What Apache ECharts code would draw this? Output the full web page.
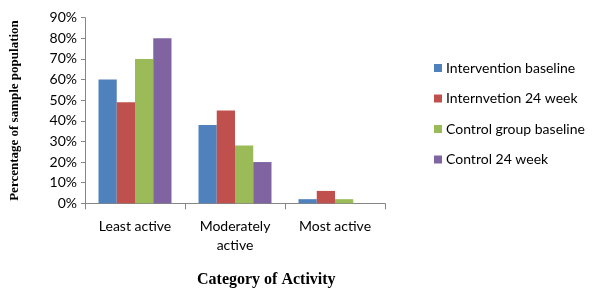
<!DOCTYPE html>
<html>
<head>
<meta charset="utf-8">
<script src="https://cdn.jsdelivr.net/npm/echarts@6/dist/echarts.min.js"></script>
<style>
  html, body { margin: 0; padding: 0; background: #fff; }
  #chart { width: 600px; height: 296px; }
</style>
</head>
<body>
<div id="chart"></div>
<script>
  let categories = ['Least active', 'Moderately\nactive', 'Most active']
  let seriesNames = ['Intervention baseline', 'Internvetion 24 week', 'Control group baseline', 'Control 24 week']
  let interventionBaseline = [60, 38, 2]
  let interventionWeek24 = [49, 45, 6]
  let controlBaseline = [70, 28, 2]
  let controlWeek24 = [80, 20, 0]
  let colors = ['#4F81BD', '#C0504D', '#9BBB59', '#8064A2']

  let font = 'Lato'
  let chart = echarts.init(document.getElementById('chart'))
  let values = [interventionBaseline, interventionWeek24, controlBaseline, controlWeek24]
  let series = []
  for (let idx in values) {
    series.push({
      name: seriesNames[idx],
      type: 'bar',
      barCategoryGap: '27%',
      barGap: '0%',
      itemStyle: {color: colors[idx]},
      data: values[idx]
    })
  }
  let option = {
    animation: false,
    color: colors,
    grid: {left: 85, right: 215, top: 17.7, bottom: 92.7},
    title: {
      text: 'Category of Activity',
      left: 192,
      top: 267,
      textStyle: {fontFamily: 'Liberation Serif', fontWeight: 'bold', fontSize: 16, color: '#000'}
    },
    legend: {
      orient: 'vertical',
      left: 429,
      top: 56,
      itemWidth: 8,
      itemHeight: 8,
      itemGap: 16.5,
      icon: 'rect',
      textStyle: {fontFamily: font, fontSize: 14, color: '#000', padding: [0, 0, 0, -1]},
      data: seriesNames
    },
    xAxis: {
      type: 'category',
      data: categories,
      axisLine: {lineStyle: {color: '#868686'}},
      axisTick: {show: true, length: 6, lineStyle: {color: '#868686'}},
      axisLabel: {fontFamily: font, fontSize: 14, color: '#000', margin: 14, lineHeight: 19}
    },
    yAxis: {
      type: 'value',
      min: 0,
      max: 90,
      interval: 10,
      name: 'Percentage of sample population',
      nameLocation: 'middle',
      nameGap: 64,
      nameTextStyle: {fontFamily: 'Liberation Serif', fontWeight: 'bold', fontSize: 13, color: '#000'},
      axisLine: {show: true, lineStyle: {color: '#868686'}},
      axisTick: {show: true, length: 4, lineStyle: {color: '#868686'}},
      splitLine: {show: false},
      axisLabel: {fontFamily: font, fontSize: 14, color: '#000', margin: 8, formatter: '{value}%'}
    },
    series: series
  }
  chart.setOption(option)
</script>
</body>
</html>
